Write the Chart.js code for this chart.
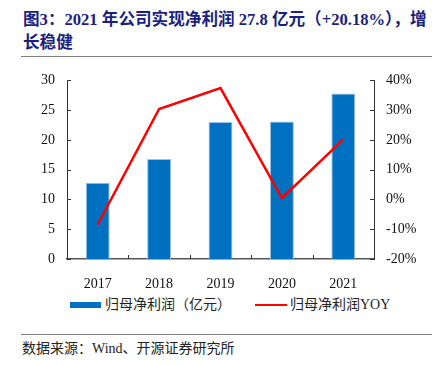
<!DOCTYPE html>
<html>
<head>
<meta charset="utf-8">
<script src="https://cdn.jsdelivr.net/npm/chart.js@4"></script>
<style>
  body { margin: 0; width: 439px; height: 365px; background: #fff; position: relative; overflow: hidden; }
  .title { position: absolute; left: 23px; top: 8px; font-family: "Liberation Serif", "Noto Sans CJK SC"; font-weight: bold; font-size: 16.6px; line-height: 23px; color: #1a1f80; white-space: nowrap; }
  .rule { position: absolute; left: 21px; width: 411px; height: 1px; background: #7f7f7f; }
  #wrap { position: absolute; left: 0; top: 60px; width: 439px; height: 230px; }
  .legend { position: absolute; top: 296px; font-family: "Liberation Serif", "Noto Sans CJK SC"; font-size: 14px; color: #222; line-height: 18px; white-space: nowrap; }
  .swatch { position: absolute; }
  .source { position: absolute; left: 22px; top: 340px; font-family: "Liberation Serif", "Noto Sans CJK SC"; font-size: 14px; color: #222; line-height: 18px; white-space: nowrap; }
</style>
</head>
<body>
<div class="title">图3：2021 年公司实现净利润 27.8 亿元（+20.18%），增<br>长稳健</div>
<div class="rule" style="top:56px"></div>
<div id="wrap"><canvas id="chart"></canvas></div>
<div class="swatch" style="left:70px; top:302px; width:31px; height:6px; background:#0070C0"></div>
<div class="legend" style="left:105px">归母净利润（亿元）</div>
<div class="swatch" style="left:255px; top:304px; width:32px; height:2px; background:#FF0000"></div>
<div class="legend" style="left:290px">归母净利润YOY</div>
<div class="rule" style="top:334px"></div>
<div class="source">数据来源：Wind、开源证券研究所</div>
<script>
var years = ['2017', '2018', '2019', '2020', '2021'];
var netProfit = [12.8, 16.8, 23.0, 23.1, 27.8];
var profitYoy = [-8.4, 30.4, 37.4, 0.4, 20.18];

var tickFont = { family: 'Liberation Serif', size: 14 };

// small inward tick marks, like the original
var innerTicks = {
    id: 'innerTicks',
    afterDraw: function(chart) {
        var ctx = chart.ctx;
        var area = chart.chartArea;
        ctx.save();
        ctx.strokeStyle = '#333';
        ctx.lineWidth = 1;
        ctx.beginPath();
        var y = chart.scales.y;
        y.ticks.forEach(function(t, i) {
            var py = Math.round(y.getPixelForTick(i)) + 0.5;
            ctx.moveTo(area.left, py);
            ctx.lineTo(area.left + 4, py);
        });
        var y1 = chart.scales.y1;
        y1.ticks.forEach(function(t, i) {
            var py = Math.round(y1.getPixelForTick(i)) + 0.5;
            ctx.moveTo(area.right - 4, py);
            ctx.lineTo(area.right, py);
        });
        var x = chart.scales.x;
        for (var i = 0; i < years.length - 1; i++) {
            var px = Math.round((x.getPixelForValue(i) + x.getPixelForValue(i + 1)) / 2) + 0.5;
            ctx.moveTo(px, area.bottom);
            ctx.lineTo(px, area.bottom - 4);
        }
        ctx.stroke();
        ctx.restore();
    }
};

var canvas = document.getElementById('chart');
var data = {
    labels: years,
    datasets: [{
        type: 'line',
        label: '归母净利润YOY',
        data: profitYoy,
        yAxisID: 'y1',
        borderColor: '#FF0000',
        borderWidth: 2.5,
        pointRadius: 0,
        tension: 0,
        order: 0
    }, {
        type: 'bar',
        label: '归母净利润（亿元）',
        data: netProfit,
        yAxisID: 'y',
        backgroundColor: '#0070C0',
        borderColor: '#9cc3e6',
        borderWidth: 1,
        barPercentage: 0.39,
        categoryPercentage: 1,
        order: 1
    }]
};
var config = {
    data: data,
    plugins: [innerTicks],
    options: {
        responsive: true,
        maintainAspectRatio: false,
        animation: false,
        layout: {
            padding: { top: 19, left: 0, right: 0, bottom: 0 }
        },
        plugins: {
            legend: { display: false },
            tooltip: { enabled: false }
        },
        scales: {
            x: {
                grid: { display: false },
                border: { color: '#555', width: 1.5 },
                ticks: { color: '#111', font: tickFont, padding: 9 },
                afterFit: function(scale) { scale.height = 31; }
            },
            y: {
                position: 'left',
                min: 0,
                max: 30,
                grid: { display: false, drawTicks: false },
                border: { color: '#333', width: 1 },
                ticks: { stepSize: 5, color: '#111', font: tickFont, padding: 12 },
                afterFit: function(scale) { scale.width = 67; }
            },
            y1: {
                position: 'right',
                min: -20,
                max: 40,
                grid: { display: false, drawTicks: false },
                border: { color: '#333', width: 1 },
                ticks: {
                    stepSize: 10,
                    color: '#111',
                    font: tickFont,
                    padding: 12,
                    callback: function(v) { return v + '%'; }
                },
                afterFit: function(scale) { scale.width = 65; }
            }
        }
    }
};
var chart = new Chart(canvas, config);
</script>
</body>
</html>
